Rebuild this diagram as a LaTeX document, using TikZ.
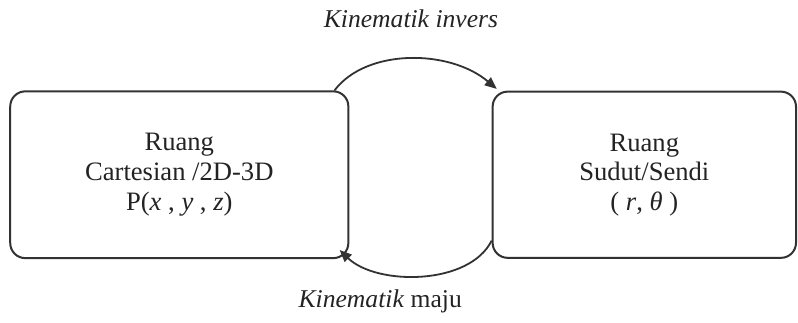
\documentclass[tikz,border=0pt]{standalone}
\usepackage{fontspec}
\setmainfont{Liberation Serif}
\definecolor{kinline}{RGB}{50,50,50}
\definecolor{kintext}{RGB}{35,35,35}
\usetikzlibrary{arrows.meta,positioning}
\tikzset{
  space/.style={rectangle,rounded corners=7.5pt,draw=kinline,line width=1pt,
                text=kintext,align=center,font=\fontsize{13.3}{14.8}\selectfont},
  kinlabel/.style={text=kintext,font=\fontsize{12.8}{14}\selectfont},
}
\begin{document}
\begin{tikzpicture}[
  kin/.style={-{Triangle[length=6pt,width=5pt]},line width=0.9pt,color=kinline}
]
  \useasboundingbox (0,0) rectangle (14.02,-5.66);

  \node[space, minimum width=5.94cm, minimum height=2.93cm] (cart) at (3.15,-3.07)
    {Ruang\\Cartesian /2D-3D\\P(\textit{x} , \textit{y} , \textit{z})};
  \node[space, minimum width=5.33cm, minimum height=2.92cm] (joint) at (11.32,-3.07)
    {Ruang\\Sudut/Sendi\\( \textit{r}, \textit{θ} )};

  % Inverse kinematics
  \draw[kin] ([xshift=-0.26cm]cart.north east)
    .. controls +(0.56,0.74) and +(-0.83,0.70) .. ([shift={(0.09,0.03)}]joint.north west);
  \node[kinlabel] (inv) at (7.22,-0.33) {\textit{Kinematik invers}};

  % Forward kinematics
  \draw[kin] ([yshift=0.32cm]joint.south west)
    .. controls +(-0.39,-0.79) and +(0.65,-0.63) .. ([shift={(-0.17,0.16)}]cart.south east);
  \node[kinlabel] (fwd) at (6.68,-5.3) {\textit{Kinematik} maju};

\end{tikzpicture}
\end{document}
